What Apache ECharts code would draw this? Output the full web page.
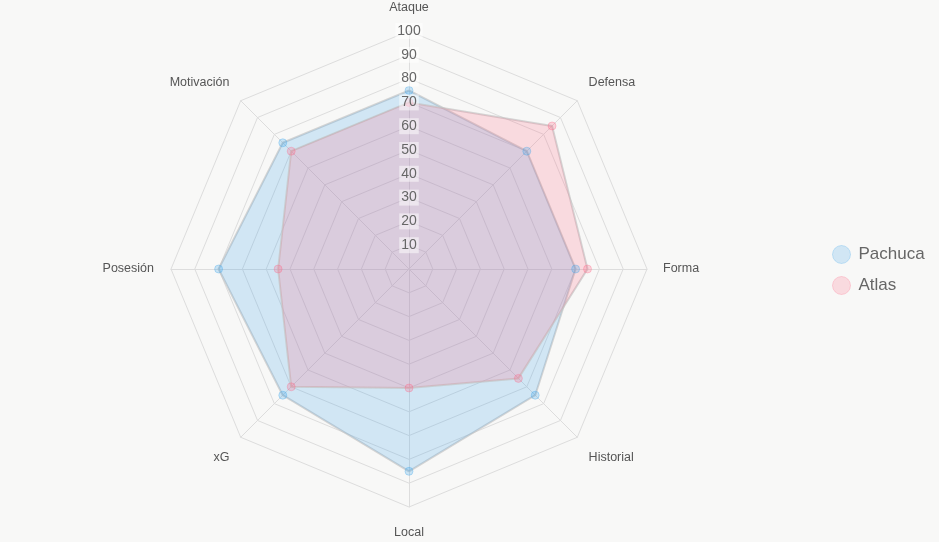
<!DOCTYPE html>
<html>
<head>
<meta charset="utf-8">
<script src="https://cdn.jsdelivr.net/npm/echarts@6/dist/echarts.min.js"></script>
<style>
  html, body { margin: 0; padding: 0; background: #f8f8f7; }
  #chart { width: 939px; height: 542px; }
</style>
</head>
<body>
<div id="chart"></div>
<script>
    // ejes del radar (en orden horario desde arriba)
    var indicadores = ['Ataque', 'Defensa', 'Forma', 'Historial', 'Local', 'xG', 'Posesión', 'Motivación'];
    var pachuca = [75, 70, 70, 75, 85, 75, 80, 75];
    var atlas = [70, 85, 75, 65, 50, 70, 55, 70];
    var equipos = ['Pachuca', 'Atlas'];
    var escala = [0, 100, 10]; // min, max, paso

    // echarts dibuja el radar en sentido antihorario: invertir todo menos el primero
    function horario(arr) {
        return [arr[0]].concat(arr.slice(1).reverse());
    }

    // separacion extra de cada nombre segun su posicion
    var estiloNombre = ['arriba', 'diagArriba', 'lado', 'diagAbajo', 'abajo', 'diagAbajo', 'lado', 'diagArriba'];

    var myChart = echarts.init(document.getElementById('chart'));

    var option = {
        backgroundColor: '#f8f8f7',
        textStyle: { fontFamily: 'Arial, "Liberation Sans", sans-serif' },
        legend: {
            orient: 'vertical',
            left: 827,
            top: 240,
            itemGap: 12,
            itemWidth: 18,
            itemHeight: 18,
            icon: 'circle',
            textStyle: { fontSize: 17, color: '#666', padding: [0, 0, 0, 3] },
            data: [
                { name: 'Pachuca', itemStyle: { color: 'rgba(54,162,235,0.2)', borderColor: 'rgba(54,162,235,0.25)', borderWidth: 1 } },
                { name: 'Atlas', itemStyle: { color: 'rgba(255,99,132,0.2)', borderColor: 'rgba(255,99,132,0.25)', borderWidth: 1 } }
            ]
        },
        radar: {
            center: [409, 269],
            radius: 238,
            startAngle: 90,
            splitNumber: 10,
            shape: 'polygon',
            nameGap: 16,
            axisName: {
                color: '#555',
                fontSize: 12.5,
                formatter: function (name) {
                    return '{' + estiloNombre[indicadores.indexOf(name)] + '|' + name + '}';
                },
                rich: {
                    arriba: { fontSize: 12.5, color: '#555', padding: [0, 0, 1, 0] },
                    diagArriba: { fontSize: 12.5, color: '#555', padding: [0, 0, 14, 0] },
                    lado: { fontSize: 12.5, color: '#555', padding: [0, 1, 0, 0] },
                    diagAbajo: { fontSize: 12.5, color: '#555', padding: [17, 0, 0, 0] },
                    abajo: { fontSize: 12.5, color: '#555', padding: [3, 0, 0, 0] }
                }
            },
            axisLine: { lineStyle: { color: '#dddddd' } },
            splitLine: { lineStyle: { color: '#dddddd' } },
            splitArea: { show: false },
            indicator: horario(indicadores).map(function (n) {
                return { name: n, min: escala[0], max: escala[1] };
            })
        },
        // eje auxiliar solo para las etiquetas 10..100
        polar: { center: [409, 269], radius: 238 },
        angleAxis: { startAngle: 90, show: false, min: 0, max: 360 },
        radiusAxis: {
            min: escala[0],
            max: escala[1],
            interval: escala[2],
            z: 10,
            axisLine: { show: false },
            axisTick: { show: false },
            splitLine: { show: false },
            axisLabel: {
                showMinLabel: false,
                margin: 0,
                align: 'center',
                verticalAlign: 'middle',
                fontSize: 14,
                color: '#666',
                backgroundColor: 'rgba(255,255,255,0.5)',
                padding: [1, 2]
            }
        },
        series: [{
            type: 'radar',
            symbol: 'circle',
            symbolSize: 8,
            data: [
                {
                    name: equipos[0],
                    value: horario(pachuca),
                    itemStyle: { color: 'rgba(54,162,235,0.25)', borderColor: 'rgba(54,162,235,0.3)', borderWidth: 1 },
                    lineStyle: { color: 'rgba(195,195,195,0.7)', width: 2 },
                    areaStyle: { color: 'rgba(54,162,235,0.2)', opacity: 1 }
                },
                {
                    name: equipos[1],
                    value: horario(atlas),
                    itemStyle: { color: 'rgba(255,99,132,0.25)', borderColor: 'rgba(255,99,132,0.3)', borderWidth: 1 },
                    lineStyle: { color: 'rgba(195,195,195,0.7)', width: 2 },
                    areaStyle: { color: 'rgba(255,99,132,0.2)', opacity: 1 }
                }
            ]
        }]
    };

    myChart.setOption(option);
</script>
</body>
</html>
